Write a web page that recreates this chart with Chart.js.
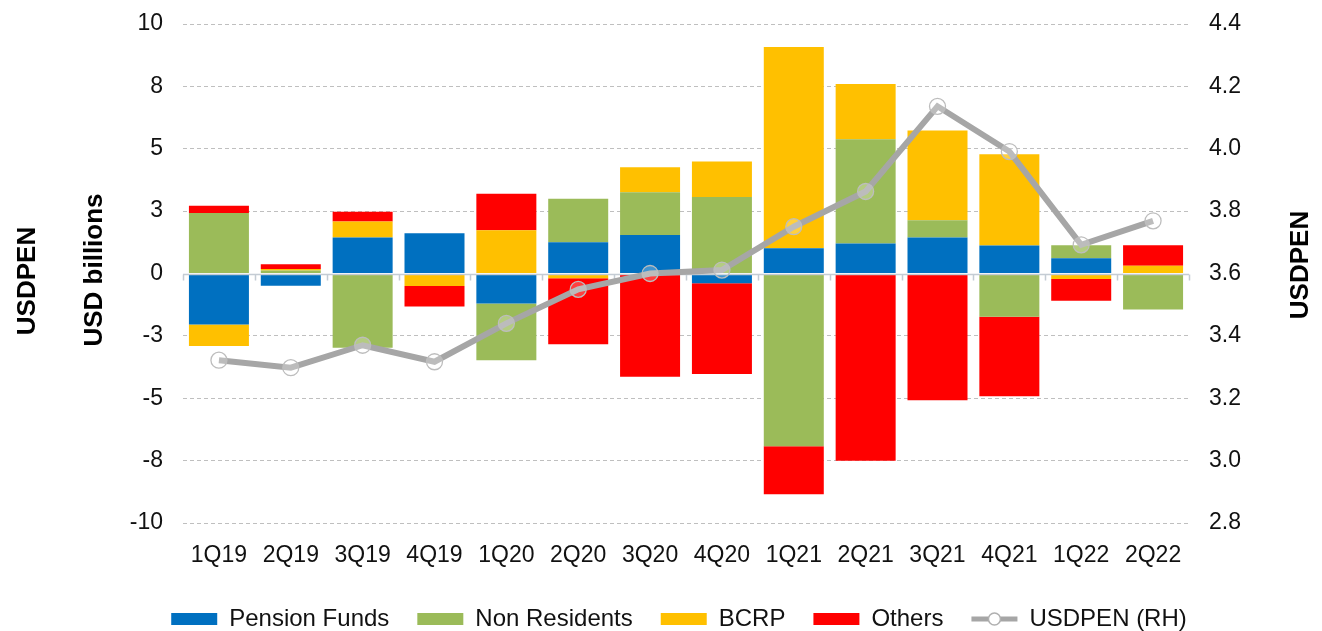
<!DOCTYPE html>
<html>
<head>
<meta charset="utf-8">
<script src="https://cdn.jsdelivr.net/npm/chart.js@4.4.1/dist/chart.umd.min.js"></script>
<style>
  body { margin: 0; background: #fff; }
  #wrap { width: 1322px; height: 631px; }
</style>
</head>
<body>
<div id="wrap"><canvas id="flows" width="1322" height="631"></canvas></div>
<script>
// Quarterly flows (USD billions) and the exchange rate (right axis)
const quarters = ['1Q19', '2Q19', '3Q19', '4Q19', '1Q20', '2Q20', '3Q20', '4Q20', '1Q21', '2Q21', '3Q21', '4Q21', '1Q22', '2Q22'];
const pensionFunds = [-2.04, -0.49, 1.44, 1.61, -1.20, 1.25, 1.54, -0.39, 1.01, 1.20, 1.44, 1.12, 0.61, 0];
const nonResidents = [2.42, 0.12, -2.98, 0, -2.28, 1.75, 1.72, 3.07, -6.92, 4.18, 0.69, -1.73, 0.52, -1.44];
const bcrp = [-0.87, 0.06, 0.64, -0.50, 1.73, -0.19, 1.00, 1.42, 8.07, 2.22, 3.60, 3.66, -0.22, 0.31];
const others = [0.30, 0.19, 0.39, -0.82, 1.47, -2.65, -4.14, -3.64, -1.93, -7.50, -5.08, -3.19, -0.87, 0.82];
const usdpen = [3.322, 3.298, 3.370, 3.317, 3.440, 3.549, 3.600, 3.611, 3.750, 3.863, 4.136, 3.991, 3.692, 3.769];

const leftTickLabels = ['-10', '-8', '-5', '-3', '0', '3', '5', '8', '10'];
const rightTickLabels = ['2.8', '3.0', '3.2', '3.4', '3.6', '3.8', '4.0', '4.2', '4.4'];

const FONT = "'Liberation Sans', Arial, sans-serif";
const PAD_LEFT = 36;
const LINE_GREY = '#A6A6A6';

// rotated axis titles (two on the left, one on the right)
const axisTitles = {
  id: 'axisTitles',
  afterDraw(chart) {
    const ctx = chart.ctx;
    ctx.save();
    ctx.fillStyle = '#000';
    ctx.font = 'bold 26px ' + FONT;
    ctx.textAlign = 'center';
    ctx.textBaseline = 'middle';
    [[28, 281, 'USDPEN'], [95, 270, 'USD billions'], [1301, 265, 'USDPEN']].forEach(([x, y, t]) => {
      ctx.save();
      ctx.translate(x, y);
      ctx.rotate(-Math.PI / 2);
      ctx.fillText(t, 0, 0);
      ctx.restore();
    });
    // circle marker on the line legend entry
    const hb = chart.legend.legendHitBoxes[4];
    if (hb) {
      ctx.beginPath();
      ctx.arc(hb.left + 23, hb.top + 12, 6, 0, Math.PI * 2);
      ctx.fillStyle = '#fff';
      ctx.fill();
      ctx.lineWidth = 1.5;
      ctx.strokeStyle = '#B0B0B0';
      ctx.stroke();
    }
    ctx.restore();
  }
};

// solid zero line with category ticks, drawn over bars but under the line
const zeroLine = {
  id: 'zeroLine',
  beforeDatasetDraw(chart, args) {
    if (args.index !== 4) return;
    const { ctx, chartArea, scales } = chart;
    const y0 = Math.round(scales.y.getPixelForValue(0)) + 0.5;
    ctx.save();
    ctx.strokeStyle = '#C4CCD4';
    ctx.lineWidth = 1.5;
    ctx.beginPath();
    ctx.moveTo(chartArea.left, y0);
    ctx.lineTo(chartArea.right, y0);
    for (let i = 0; i <= quarters.length; i++) {
      const x = Math.round(scales.x.getPixelForValue(i - 0.5)) + 0.5;
      ctx.moveTo(x, y0);
      ctx.lineTo(x, y0 + 6);
    }
    ctx.stroke();
    ctx.restore();
  }
};

const legendFit = {
  id: 'legendFit',
  beforeInit(chart) {
    const orig = chart.legend.fit;
    chart.legend.fit = function () {
      orig.call(this);
      this.height = 52;
    };
  }
};

const barDefaults = { stack: 'flows', order: 1, pointStyle: 'rect', borderWidth: 0 };

new Chart(document.getElementById('flows'), {
  data: {
    labels: quarters,
    datasets: [
      { type: 'bar', label: 'Pension Funds', data: pensionFunds, backgroundColor: '#0070C0', ...barDefaults },
      { type: 'bar', label: 'Non Residents', data: nonResidents, backgroundColor: '#9BBB59', ...barDefaults },
      { type: 'bar', label: 'BCRP', data: bcrp, backgroundColor: '#FFC000', ...barDefaults },
      { type: 'bar', label: 'Others', data: others, backgroundColor: '#FF0000', ...barDefaults },
      {
        type: 'line', label: 'USDPEN (RH)', data: usdpen, yAxisID: 'y1', order: 0,
        borderColor: LINE_GREY, backgroundColor: LINE_GREY, borderWidth: 6, tension: 0,
        pointStyle: 'circle', pointRadius: 8, pointBorderWidth: 1.3,
        pointBorderColor: '#BDBDBD', pointBackgroundColor: 'rgba(255,255,255,0.25)'
      }
    ]
  },
  options: {
    responsive: false,
    devicePixelRatio: 1,
    animation: false,
    datasets: { bar: { categoryPercentage: 1, barPercentage: 0.835 } },
    layout: { padding: { top: 24, left: PAD_LEFT, right: 0, bottom: 0 } },
    scales: {
      x: {
        stacked: true,
        grid: { display: false },
        border: { display: false },
        ticks: { color: '#111', font: { size: 23, family: FONT }, padding: 11, maxRotation: 0 },
        afterFit(scale) { scale.height = 56; }
      },
      y: {
        stacked: true,
        min: -10, max: 10,
        grid: {
          color: c => (c.tick && c.tick.value === 0 ? 'rgba(0,0,0,0)' : '#BFBFBF'),
          lineWidth: 1, drawTicks: false
        },
        border: { display: false, dash: [4, 3] },
        ticks: {
          stepSize: 2.5, padding: 20, color: '#111',
          font: { size: 23, family: FONT },
          callback: (v, i) => leftTickLabels[i]
        },
        afterFit(scale) { scale.width = 183 - PAD_LEFT; scale.paddingTop = 0; scale.paddingBottom = 0; }
      },
      y1: {
        position: 'right',
        min: 2.8, max: 4.4,
        grid: { drawOnChartArea: false, drawTicks: false },
        border: { display: false },
        ticks: {
          stepSize: 0.2, padding: 20, color: '#111',
          font: { size: 23, family: FONT },
          callback: (v, i) => rightTickLabels[i]
        },
        afterFit(scale) { scale.width = 133; scale.paddingTop = 0; scale.paddingBottom = 0; }
      }
    },
    plugins: {
      tooltip: { enabled: false },
      legend: {
        position: 'bottom',
        labels: {
          usePointStyle: true, pointStyleWidth: 46, boxHeight: 12, padding: 28,
          color: '#111', font: { size: 24, family: FONT },
          sort: (a, b) => a.datasetIndex - b.datasetIndex,
          generateLabels(chart) {
            const items = Chart.defaults.plugins.legend.labels.generateLabels(chart);
            items.forEach(it => {
              if (it.datasetIndex === 4) {
                it.pointStyle = 'line';
                it.lineWidth = 5;
                it.strokeStyle = LINE_GREY;
              }
            });
            return items;
          }
        }
      }
    }
  },
  plugins: [legendFit, zeroLine, axisTitles]
});
</script>
</body>
</html>
